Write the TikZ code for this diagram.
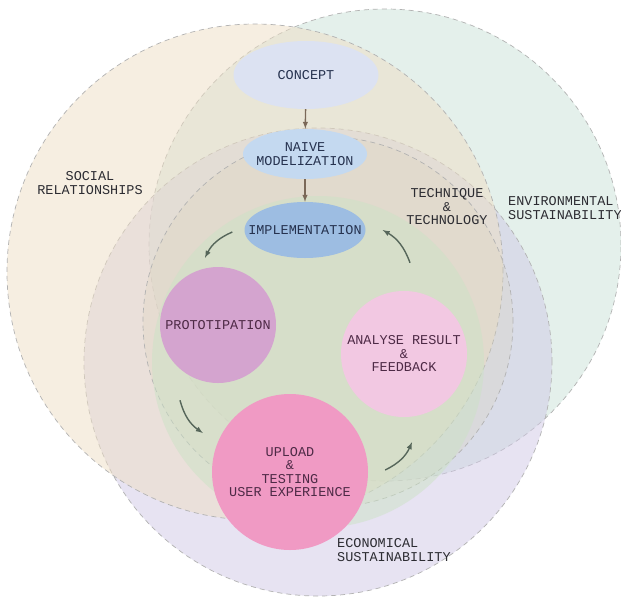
\documentclass[tikz,border=0pt]{standalone}
\usepackage{fontspec}
\newfontfamily\diafont{Liberation Mono}
\usetikzlibrary{shapes.geometric}
\definecolor{envc}{HTML}{CAE3D8}
\definecolor{econc}{HTML}{D0C9E6}
\definecolor{socialc}{HTML}{EEDEC4}
\definecolor{techc}{HTML}{DCD4B8}
\definecolor{greenc}{HTML}{CCE2C6}
\definecolor{conceptc}{HTML}{DCE2F2}
\definecolor{naivec}{HTML}{C4D9F0}
\definecolor{implc}{HTML}{9DBDE2}
\definecolor{protoc}{HTML}{D4A4CF}
\definecolor{analysec}{HTML}{F2C8E2}
\definecolor{uploadc}{HTML}{F09AC4}
\definecolor{flowc}{HTML}{7A6858}
\definecolor{cycc}{HTML}{56665A}
\definecolor{labc}{HTML}{2C2C32}
\definecolor{bluet}{HTML}{26324F}
\definecolor{pinkt}{HTML}{4E2A46}
\begin{document}
\begin{tikzpicture}[x=1pt,y=-1pt, font=\diafont\fontsize{13.5}{13.5}\selectfont,
 ring/.style={draw=black!30, dash pattern=on 5pt off 4pt, line width=.7pt, fill opacity=.5},
 lab/.style={align=center, text=labc, inner sep=0pt},
 oval/.style={ellipse, inner xsep=-15pt, inner ysep=0pt, align=center, text=bluet},
 bubble/.style={circle, inner sep=0pt, align=center, text=pinkt},
 flow/.style={-latex, draw=flowc, line width=1.4pt},
 cyc/.style={-latex, draw=cycc, line width=1.4pt}]
\useasboundingbox (0,0) rectangle (621,600);
\fill[white] (0,0) rectangle (621,600);
% big circles
\draw[ring, fill=envc] (385,245) circle[radius=236pt];
\draw[ring, fill=econc] (318,362) circle[radius=234pt];
\draw[ring, fill=socialc] (255,272) circle[radius=248pt];
\draw[ring, fill=techc, fill opacity=.25] (328,322) circle[radius=185pt];
\fill[greenc, opacity=.5] (318,362) circle[radius=166pt];
% labels
\path (90,183) node[lab]{SOCIAL\\RELATIONSHIPS}
 (447,207) node[lab]{TECHNIQUE\\\&\\TECHNOLOGY}
 (508,208) node[lab, align=left, anchor=west]{ENVIRONMENTAL\\SUSTAINABILITY}
 (337,550) node[lab, align=left, anchor=west]{ECONOMICAL\\SUSTAINABILITY};
% steps
\node[oval, fill=conceptc, minimum width=145pt, minimum height=68pt] (concept) at (306,75) {CONCEPT};
\node[oval, fill=naivec, minimum width=124pt, minimum height=50pt] (naive) at (305,154) {NAIVE\\MODELIZATION};
\node[oval, fill=implc, minimum width=121pt, minimum height=56pt] (impl) at (305,230) {IMPLEMENTATION};
\node[bubble, fill=protoc, minimum size=116pt] (proto) at (218,325) {PROTOTIPATION};
\node[bubble, fill=analysec, minimum size=126pt] (analyse) at (404,354) {ANALYSE RESULT\\\&\\FEEDBACK};
\node[bubble, fill=uploadc, minimum size=156pt] (upload) at (290,472) {UPLOAD\\\&\\TESTING\\USER EXPERIENCE};
\foreach \a/\b in {concept/naive, naive/impl} \draw[flow] (\a) -- (\b);
\foreach \a/\sa/\b/\sb in {impl.west/{-12,2}/proto.north/{-13,-9}, proto.south/{-38,17}/upload.west/{-9,-39},
 upload.east/{17,-2}/analyse.south/{8,25}, analyse.north/{6,-28}/impl.east/{17,0}}
 \draw[cyc] ([shift={(\sa)}]\a) to[bend right=20] ([shift={(\sb)}]\b);
\end{tikzpicture}
\end{document}
